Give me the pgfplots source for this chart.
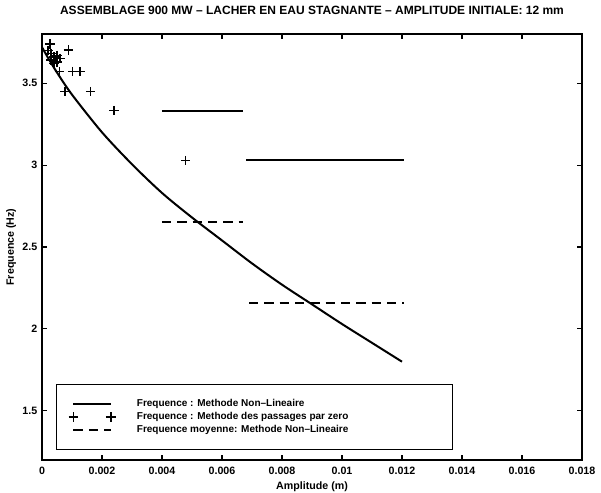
\documentclass[border=0pt]{standalone}
\usepackage{fontspec}
\setmainfont{Liberation Sans}
\usepackage{pgfplots}
\pgfplotsset{compat=1.18}
\pgfplotsset{
  lineleg/.style={legend image code/.code={\draw[##1] (0pt,0pt) -- (28pt,0pt);}},
  plusleg/.style={legend image code/.code={\draw[##1] plot coordinates {(0pt,0pt) (28pt,0pt)};}},
}
\begin{document}
\begin{tikzpicture}
\path[use as bounding box] (-31.5pt,-24.75pt) rectangle (419.25pt,345pt);
\begin{axis}[
  at={(0pt,0pt)}, anchor=south west,
  scale only axis,
  width=405pt, height=319.5pt,
  xmin=0, xmax=0.018, ymin=1.2, ymax=3.8,
  scaled x ticks=false, scaled y ticks=false,
  xtick={0,0.002,0.004,0.006,0.008,0.01,0.012,0.014,0.016,0.018},
  xticklabels={0,0.002,0.004,0.006,0.008,0.01,0.012,0.014,0.016,0.018},
  ytick={1.5,2,2.5,3,3.5},
  yticklabels={1.5,2,2.5,3,3.5},
  tick align=inside,
  major tick length=4pt,
  axis line style={line width=0.9pt},
  every tick/.style={black, line width=0.8pt},
  ticklabel style={font=\fontsize{8}{9}\selectfont\bfseries},
  xticklabel style={yshift=-2pt},
  title={ASSEMBLAGE 900 MW -- LACHER EN EAU STAGNANTE -- AMPLITUDE INITIALE: 12 mm},
  title style={font=\fontsize{9}{10}\selectfont\bfseries, at={(axis description cs:0.5,1.0364)}, anchor=center, yshift=0pt},
  xlabel={Amplitude (m)},
  xlabel style={font=\fontsize{8}{9}\selectfont\bfseries, at={(axis description cs:0.5,-0.063)}, anchor=center},
  ylabel={Frequence (Hz)},
  ylabel style={font=\fontsize{8}{9}\selectfont\bfseries, at={(axis description cs:-0.057,0.5)}, anchor=center},
  legend style={at={(0.026,0.023)}, anchor=south west, draw=black, line width=0.9pt,
    inner xsep=9pt, inner ysep=9pt, font=\fontsize{7.5}{8.5}\selectfont\bfseries,
    row sep=-1pt, column sep=14pt},
  legend cell align=left,
]
\addplot[black, line width=1.5pt, smooth, lineleg] coordinates {
 (0,3.72) (0.0002,3.655) (0.0005,3.565) (0.001,3.43) (0.002,3.20) (0.003,3.005)
 (0.004,2.83) (0.005,2.68) (0.006,2.54) (0.007,2.40) (0.008,2.27) (0.009,2.15)
 (0.010,2.03) (0.011,1.915) (0.012,1.80)};
\addlegendentry{Frequence : Methode Non--Lineaire}
\addplot[black, only marks, mark=+, mark size=3.6pt, mark options={line width=1.1pt}, plusleg] coordinates {
 (0.00027,3.739) (0.00088,3.702) (0.0002,3.70) (0.0003,3.68) (0.0004,3.66)
 (0.0003,3.64) (0.0005,3.63) (0.0005,3.67) (0.0006,3.65) (0.0004,3.62)
 (0.00058,3.57) (0.00102,3.57) (0.00127,3.57) (0.00077,3.448) (0.00162,3.448)
 (0.0024,3.332) (0.00479,3.027)};
\addlegendentry{Frequence : Methode des passages par zero\hspace*{67pt}}
\addplot[black, line width=1.5pt, dash pattern=on 7pt off 4.5pt, lineleg] coordinates {(0.004,2.654) (0.0067,2.654)};
\addlegendentry{Frequence moyenne: Methode Non--Lineaire}
\addplot[black, line width=1.5pt, dash pattern=on 7pt off 4.5pt, forget plot] coordinates {(0.0069,2.156) (0.01207,2.156)};
\addplot[black, line width=1.5pt, forget plot] coordinates {(0.004,3.332) (0.0067,3.332)};
\addplot[black, line width=1.5pt, forget plot] coordinates {(0.0068,3.029) (0.01207,3.029)};
\end{axis}
\end{tikzpicture}
\end{document}
